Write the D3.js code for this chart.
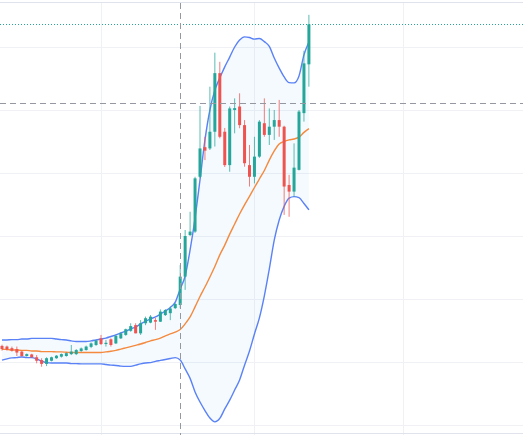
<!DOCTYPE html>
<html>
<head>
<meta charset="utf-8">
<script src="https://cdn.jsdelivr.net/npm/d3@7"></script>
<style>
  html, body { margin: 0; padding: 0; background: #fff; overflow: hidden; }
  svg { display: block; }
</style>
</head>
<body>
<div id="chart"></div>
<script>
const width = 523;
const height = 435;

// ——— DATA —————————————————————————————————————————————————————————
// one entry per bar, bar index 0..62
const opens  = [125.1,124.9,124.4,124.1,123.3,121.9,122.4,121.5,120.6,119.4,120.4,121.2,121.7,121.9,122.5,122.5,123.5,123.8,124.8,125.4,
                127.5,125.7,127.2,125.9,127.5,128.6,129.9,131.7,129.1,132.3,132.5,133.3,132.8,134.9,135.5,137.1,138.1,147.1,160.3,161.4,
                178.8,188.2,187.8,193.1,211.7,193.1,182.5,200.0,201.1,195.2,182.5,178.8,185.2,195.8,192.1,194.7,196.8,194.7,176.2,174.1,
                181.0,199.0,214.5];
const highs  = [125.5,125.2,124.9,124.9,123.6,122.7,122.6,122.2,121.2,121.5,121.7,122.2,122.7,123.0,125.4,124.1,124.6,125.2,126.2,127.1,
                128.6,127.0,127.5,128.6,129.4,130.6,132.3,132.3,133.3,134.4,134.9,134.0,136.7,136.8,137.6,138.7,150.8,161.9,167.7,178.8,
                201.3,191.5,207.4,218.2,215.3,194.3,201.1,203.7,205.3,196.8,188.9,191.5,196.8,203.7,200.5,200.0,203.2,195.0,179.4,189.4,
                200.0,218.8,230.2];
const lows   = [123.6,123.6,123.3,121.9,121.7,121.7,121.3,119.6,118.5,118.7,120.2,121.0,121.4,121.7,122.2,122.2,123.2,123.6,124.4,125.1,
                125.4,124.9,124.9,125.7,127.3,128.3,129.6,129.1,128.6,131.7,132.3,130.2,132.7,134.6,133.3,136.8,137.1,142.9,160.0,161.0,
                178.4,184.1,187.3,188.4,191.0,181.9,180.4,192.6,194.2,182.0,175.7,176.7,184.8,191.5,188.9,190.5,191.5,166.7,166.1,172.5,
                180.8,196.3,207.4];
const closes = [124.1,124.0,123.6,123.0,121.9,122.5,121.5,120.4,119.4,121.2,121.5,122.0,122.5,122.8,123.3,123.8,124.3,124.9,125.9,126.8,
                125.7,126.1,125.4,128.3,129.1,130.4,131.4,129.1,132.3,133.9,134.4,132.8,136.0,136.5,137.0,138.4,147.1,160.0,161.4,178.3,
                187.8,187.1,193.1,211.7,191.5,182.5,200.5,200.6,195.2,183.1,178.8,185.2,196.3,192.1,194.7,196.8,194.7,175.7,174.1,181.7,
                199.5,214.8,227.2];

// bollinger bands
const bandUpper = [127.0,127.0,127.1,127.1,127.3,127.3,127.5,127.5,127.5,127.5,127.5,127.3,127.1,127.0,126.7,126.5,126.5,126.5,126.7,127.0,
                   127.3,127.6,128.1,128.6,129.2,129.8,130.5,131.1,132.1,132.9,133.7,134.3,135.2,136.2,137.3,139.0,143.2,147.3,155.6,165.7,
                   177.8,190.5,200.0,206.3,210.2,213.7,216.8,220.0,222.2,223.2,223.0,222.5,222.7,221.7,220.2,216.5,213.3,210.5,208.7,208.6,
                   210.8,217.5,221.6];
const bandMiddle = [124.0,124.0,123.8,123.8,123.7,123.7,123.5,123.5,123.3,123.3,123.3,123.2,123.2,123.1,123.0,123.0,123.0,123.0,123.0,123.0,
                    123.0,123.2,123.4,123.7,124.1,124.5,124.9,125.3,125.7,126.2,126.7,127.1,127.6,128.3,128.9,129.5,130.3,132.1,134.3,137.5,
                    140.8,143.8,147.0,150.3,154.0,157.1,160.6,163.8,167.0,169.9,172.6,175.4,178.1,180.8,184.1,187.0,189.2,190.0,190.5,190.8,
                    191.4,192.9,194.1];
const bandLower = [120.6,121.0,121.3,121.4,121.6,121.4,121.4,121.0,120.3,119.8,119.7,119.7,119.7,119.7,119.5,119.5,119.4,119.4,119.4,119.4,
                   119.4,119.2,119.0,118.9,118.7,118.6,118.6,119.0,119.4,119.7,119.8,120.2,120.5,120.8,121.1,121.4,120.6,117.8,114.8,110.5,
                   107.3,104.6,102.2,101.0,102.1,105.1,107.9,111.1,114.3,119.0,123.5,128.9,134.0,141.0,149.5,158.7,165.1,169.4,172.0,172.5,
                   172.2,170.3,168.3];

const priceGrid = [100, 120, 140, 160, 180, 200, 220];
const timeGrid = [20, 51, 81];     // bar positions of the time ticks
const crossBar = 36;
const crossPrice = 202.2;

// ——— SCALES ————————————————————————————————————————————————————————
const x = d3.scaleLinear().domain([0, 100]).range([2, 497]);
const y = d3.scaleLinear().domain([100, 220]).range([425, 47]);

const bars = opens.map((o, i) => ({ i, o, h: highs[i], l: lows[i], c: closes[i] }));
const bands = bandUpper.map((u, i) => ({ i, u, m: bandMiddle[i], lo: bandLower[i] }));

const svg = d3.select("#chart").append("svg")
    .attr("width", width)
    .attr("height", height);

// ——— GRID ——————————————————————————————————————————————————————————
svg.append("g").selectAll("line")
    .data(priceGrid)
    .join("line")
    .attr("x1", 0).attr("x2", width)
    .attr("y1", d => Math.round(y(d)) + 0.5).attr("y2", d => Math.round(y(d)) + 0.5)
    .attr("stroke", "#f0f1f4");

svg.append("g").selectAll("line")
    .data(timeGrid)
    .join("line")
    .attr("x1", d => Math.round(x(d)) + 0.5).attr("x2", d => Math.round(x(d)) + 0.5)
    .attr("y1", 3).attr("y2", height)
    .attr("stroke", "#f0f1f4");

// frame lines
svg.append("line").attr("x1", 0).attr("x2", width).attr("y1", 2.5).attr("y2", 2.5).attr("stroke", "#e0e3eb");
svg.append("line").attr("x1", 0).attr("x2", width).attr("y1", 433.5).attr("y2", 433.5).attr("stroke", "#e0e3eb");

// ——— BANDS —————————————————————————————————————————————————————————
const area = d3.area()
    .x(d => x(d.i))
    .y0(d => y(d.lo))
    .y1(d => y(d.u))
    .curve(d3.curveMonotoneX);

svg.append("path")
    .datum(bands)
    .attr("d", area)
    .attr("fill", "rgba(33,150,243,0.05)");

const lineOf = key => d3.line().x(d => x(d.i)).y(d => y(d[key])).curve(d3.curveMonotoneX);

[["u", "#5a82f6"], ["lo", "#5a82f6"], ["m", "#f5893d"]].forEach(([k, col]) => {
    svg.append("path")
        .datum(bands)
        .attr("d", lineOf(k))
        .attr("fill", "none")
        .attr("stroke", col)
        .attr("stroke-width", 1.4);
});

// ——— CANDLES ———————————————————————————————————————————————————————
const up = "#26a69a";
const down = "#ef5350";

const candles = svg.append("g").selectAll("g")
    .data(bars)
    .join("g");

candles.append("line")
    .attr("x1", d => x(d.i)).attr("x2", d => x(d.i))
    .attr("y1", d => y(d.h)).attr("y2", d => y(d.l))
    .attr("stroke", d => d.c >= d.o ? up : down)
    .attr("stroke-opacity", 0.75)
    .attr("stroke-width", 1);

candles.append("rect")
    .attr("x", d => x(d.i) - 1.5)
    .attr("width", 3)
    .attr("y", d => y(Math.max(d.o, d.c)))
    .attr("height", d => Math.max(1, Math.abs(y(d.o) - y(d.c))))
    .attr("fill", d => d.c >= d.o ? up : down);

// ——— PRICE LINE & CROSSHAIR ————————————————————————————————————————
const last = closes[closes.length - 1];
svg.append("line")
    .attr("x1", 0).attr("x2", width)
    .attr("y1", Math.round(y(last)) + 0.5).attr("y2", Math.round(y(last)) + 0.5)
    .attr("stroke", "#26a69a")
    .attr("stroke-dasharray", "1,2");

svg.append("line")
    .attr("x1", 0).attr("x2", width)
    .attr("y1", Math.round(y(crossPrice)) + 0.5).attr("y2", Math.round(y(crossPrice)) + 0.5)
    .attr("stroke", "#9598a1")
    .attr("stroke-dasharray", "6,4");

svg.append("line")
    .attr("x1", Math.round(x(crossBar)) + 0.5).attr("x2", Math.round(x(crossBar)) + 0.5)
    .attr("y1", 3).attr("y2", height)
    .attr("stroke", "#9598a1")
    .attr("stroke-dasharray", "6,4");
</script>
</body>
</html>
